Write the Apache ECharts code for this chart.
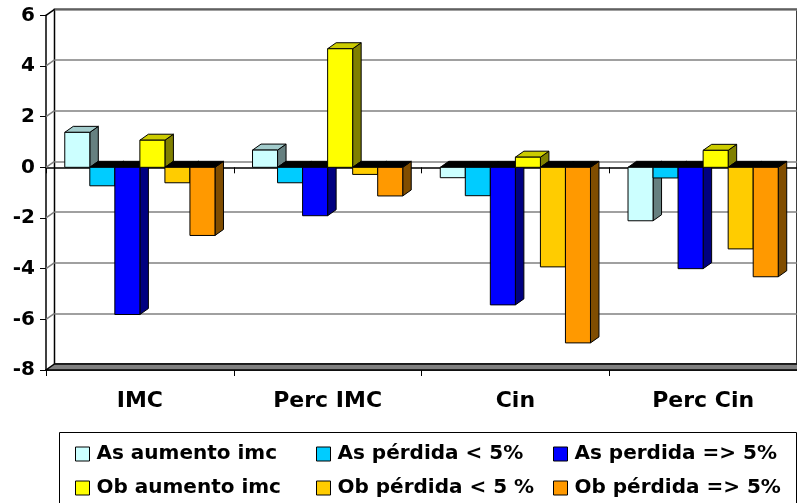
<!DOCTYPE html>
<html>
<head>
<meta charset="utf-8">
<script src="https://cdn.jsdelivr.net/npm/echarts@6/dist/echarts.min.js"></script>
<style>
  html, body { margin: 0; padding: 0; background: #fff; }
  #chart { width: 797px; height: 503px; }
</style>
</head>
<body>
<div id="chart"></div>
<script>
// Categories and values per group
const categories = ['IMC', 'Perc IMC', 'Cin', 'Perc Cin'];
const asAumento = [1.38, 0.68, -0.41, -2.11];
const asPerdidaMenor = [-0.73, -0.61, -1.12, -0.42];
const asPerdidaMayor = [-5.81, -1.91, -5.43, -4.0];
const obAumento = [1.07, 4.68, 0.4, 0.67];
const obPerdidaMenor = [-0.61, -0.28, -3.93, -3.22];
const obPerdidaMayor = [-2.69, -1.13, -6.93, -4.32];

const seriesNames = [
  'As aumento imc', 'As pérdida < 5%', 'As perdida => 5%',
  'Ob aumento imc', 'Ob pérdida < 5 %', 'Ob pérdida => 5%'
];
const seriesValues = [asAumento, asPerdidaMenor, asPerdidaMayor, obAumento, obPerdidaMenor, obPerdidaMayor];
const seriesColors = ['#CCFFFF', '#00CCFF', '#0000FF', '#FFFF00', '#FFCC00', '#FF9900'];

// Value axis
const yMin = -8, yMax = 6, yStep = 2;
const yTicks = [-8, -6, -4, -2, 0, 2, 4, 6];

// Depth of the pseudo-3D box
const DX = 8.5, DY = -6;
const FONT = 'DejaVu Sans';

function shade(hex, f) {
  const n = parseInt(hex.slice(1), 16);
  const r = Math.round(((n >> 16) & 255) * f);
  const g = Math.round(((n >> 8) & 255) * f);
  const b = Math.round((n & 255) * f);
  return 'rgb(' + r + ',' + g + ',' + b + ')';
}

const FRONT = { left: 46, top: 15.3, width: 756, height: 354.7 };
const BACK = { left: 46 + DX, top: 15.3 + DY, width: 756, height: 354.7 };

const chart = echarts.init(document.getElementById('chart'));

function barRenderer(s) {
  return function (params, api) {
    const i = api.value(0);
    const v = api.value(1);
    const catW = api.size([1, 0])[0];
    const barW = catW * 0.8 / seriesValues.length;
    const c = api.coord([i, 0]);
    const p = api.coord([i, v]);
    const x0 = c[0] - catW * 0.4 + s * barW;
    const top = Math.min(c[1], p[1]);
    const bottom = Math.max(c[1], p[1]);
    const col = seriesColors[s];
    const topColor = v >= 0 ? shade(col, 0.8) : '#000';
    const line = { stroke: '#000', lineWidth: 1 };
    return {
      type: 'group',
      children: [
        {
          type: 'polygon',
          shape: { points: [[x0 + barW, top], [x0 + barW + DX, top + DY], [x0 + barW + DX, bottom + DY], [x0 + barW, bottom]] },
          style: Object.assign({ fill: shade(col, 0.5) }, line)
        },
        {
          type: 'polygon',
          shape: { points: [[x0, top], [x0 + DX, top + DY], [x0 + barW + DX, top + DY], [x0 + barW, top]] },
          style: Object.assign({ fill: topColor }, line)
        },
        {
          type: 'rect',
          shape: { x: x0, y: top, width: barW, height: bottom - top },
          style: Object.assign({ fill: col }, line)
        }
      ]
    };
  };
}

const barSeries = seriesValues.map(function (vals, s) {
  return {
    name: seriesNames[s],
    type: 'custom',
    xAxisIndex: 0,
    yAxisIndex: 0,
    z: 5,
    itemStyle: { color: seriesColors[s], borderColor: '#000', borderWidth: 1 },
    encode: { x: 0, y: 1 },
    data: vals.map(function (v, i) { return [i, v]; }),
    renderItem: barRenderer(s)
  };
});

// Side wall lines at each tick, and the floor slab
const wallSeries = {
  type: 'custom',
  xAxisIndex: 0, yAxisIndex: 0,
  z: 3, silent: true,
  encode: { x: 0, y: 1 },
  data: yTicks.map(function (t) { return [0, t]; }),
  renderItem: function (params, api) {
    const t = api.value(1);
    const p = api.coord([0, t]);
    const x = params.coordSys.x;
    const w = params.coordSys.width;
    if (t === yMin) {
      return {
        type: 'polygon',
        shape: { points: [[x, p[1]], [x + w, p[1]], [x + w + DX, p[1] + DY], [x + DX, p[1] + DY]] },
        style: { fill: '#808080', stroke: '#000', lineWidth: 1.5 }
      };
    }
    return {
      type: 'line',
      shape: { x1: x, y1: p[1], x2: x + DX, y2: p[1] + DY },
      style: { stroke: t === yMax ? '#000' : '#808080', lineWidth: 1.5 }
    };
  }
};

const legendCommon = {
  orient: 'vertical',
  icon: 'rect',
  itemWidth: 14,
  itemHeight: 14,
  itemGap: 14,
  padding: 0,
  selectedMode: false,
  top: 444,
  itemStyle: { borderColor: '#000', borderWidth: 1 },
  textStyle: { fontFamily: FONT, fontWeight: 'bold', fontSize: 20, color: '#000', lineHeight: 20, padding: [0, 0, 0, 2] }
};

chart.setOption({
  animation: false,
  backgroundColor: '#fff',
  graphic: [{
    type: 'rect',
    shape: { x: 59.5, y: 432.5, width: 737, height: 90 },
    style: { fill: '#fff', stroke: '#000', lineWidth: 1 },
    z: -1
  }],
  legend: [
    Object.assign({}, legendCommon, { left: 75, data: [seriesNames[0], seriesNames[3]] }),
    Object.assign({}, legendCommon, { left: 316, data: [seriesNames[1], seriesNames[4]] }),
    Object.assign({}, legendCommon, { left: 553, data: [seriesNames[2], seriesNames[5]] })
  ],
  grid: [
    Object.assign({ show: false }, FRONT),
    Object.assign({ show: true, backgroundColor: '#fff', borderColor: '#000', borderWidth: 1.5 }, BACK),
    Object.assign({ show: false }, FRONT)
  ],
  xAxis: [
    {
      gridIndex: 0, type: 'category', data: categories,
      axisLine: { onZero: false, lineStyle: { color: '#000', width: 1.5 } },
      axisTick: { show: true, length: 6, lineStyle: { color: '#000' } },
      axisLabel: { margin: 20, color: '#000', fontFamily: FONT, fontWeight: 'bold', fontSize: 22 },
      splitLine: { show: false }
    },
    {
      gridIndex: 1, type: 'category', data: categories,
      axisLine: { show: false }, axisTick: { show: false }, axisLabel: { show: false }
    },
    {
      gridIndex: 2, type: 'category', data: categories,
      axisLine: { onZero: true, lineStyle: { color: '#000', width: 1.5 } },
      axisTick: { show: true, length: 6, lineStyle: { color: '#000' } },
      axisLabel: { show: false }
    }
  ],
  yAxis: [
    {
      gridIndex: 0, type: 'value', min: yMin, max: yMax, interval: yStep,
      axisLine: { show: true, lineStyle: { color: '#000', width: 1.5 } },
      axisTick: { show: true, length: 6, lineStyle: { color: '#000' } },
      axisLabel: { margin: 11, color: '#000', fontFamily: FONT, fontWeight: 'bold', fontSize: 20 },
      splitLine: { show: false }
    },
    {
      gridIndex: 1, type: 'value', min: yMin, max: yMax, interval: yStep,
      axisLine: { show: false }, axisTick: { show: false }, axisLabel: { show: false },
      splitLine: { show: true, lineStyle: { color: '#808080', width: 1.5 } }
    },
    {
      gridIndex: 2, type: 'value', min: yMin, max: yMax, interval: yStep,
      axisLine: { show: false }, axisTick: { show: false }, axisLabel: { show: false },
      splitLine: { show: false }
    }
  ],
  series: [wallSeries].concat(barSeries)
});
</script>
</body>
</html>
